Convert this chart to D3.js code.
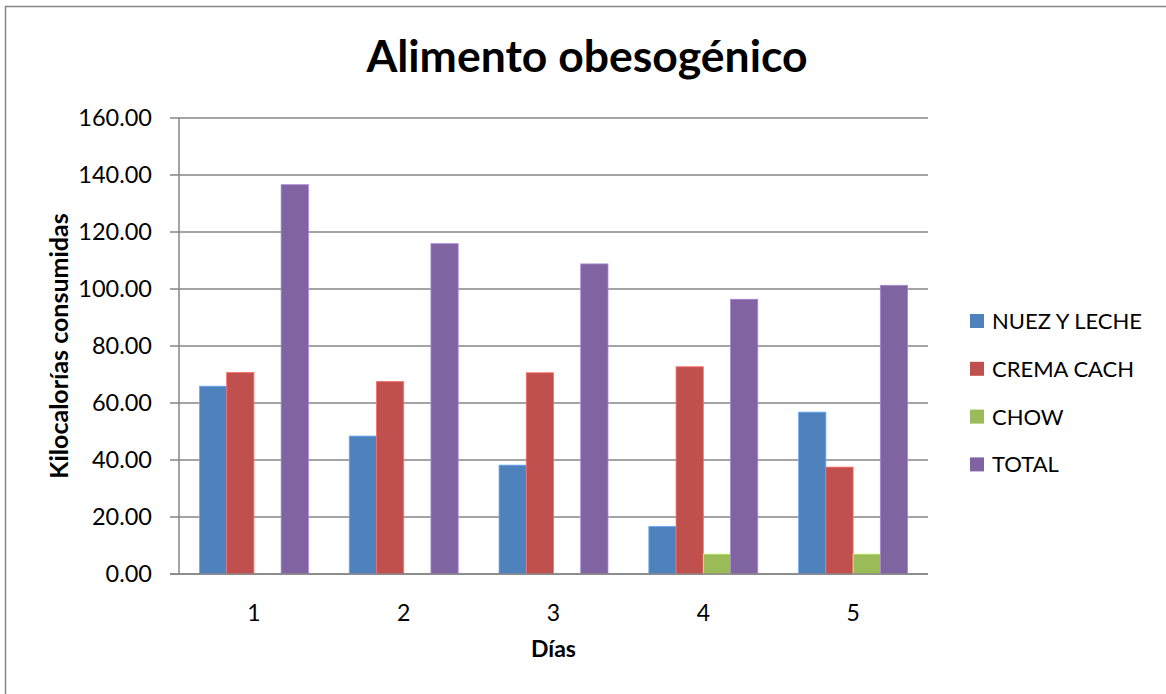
<!DOCTYPE html>
<html>
<head>
<meta charset="utf-8">
<script src="https://cdn.jsdelivr.net/npm/d3@7"></script>
<style>
  html, body { margin: 0; padding: 0; background: #fff; }
  svg { display: block; }
  text { font-family: Lato, "Open Sans", sans-serif; fill: #000; }
</style>
</head>
<body>
<svg id="chart" width="1166" height="694"></svg>
<script>
// Kilocalorías consumidas por día y por tipo de alimento
const days = ["1", "2", "3", "4", "5"];
const seriesNames = ["NUEZ Y LECHE", "CREMA CACH", "CHOW", "TOTAL"];
const nuezLeche = [65.9, 48.4, 38.2, 16.7, 56.8];
const cremaCach = [70.7, 67.5, 70.6, 72.7, 37.5];
const chow = [0, 0, 0, 7.0, 7.0];
const total = [136.6, 115.9, 108.8, 96.4, 101.3];
const yTicks = [0, 20, 40, 60, 80, 100, 120, 140, 160];
const colors = ["#4F81BD", "#C0504D", "#9BBB59", "#8064A2"];

const seriesValues = [nuezLeche, cremaCach, chow, total];

const svg = d3.select("#chart");
const W = 1166, H = 694;
const plot = { left: 179, right: 928, top: 118, bottom: 574 };

// outer chart frame
svg.append("rect")
  .attr("x", 5.5).attr("y", 6.5)
  .attr("width", W + 10).attr("height", H + 10)
  .attr("fill", "#fff").attr("stroke", "#868686").attr("stroke-width", 1.5);

const x0 = d3.scaleBand().domain(days).range([plot.left, plot.right]).paddingInner(0).paddingOuter(0);
// Excel-style gap width of 150%: group occupies 4/(4+1.5) of each category
const gapRatio = 1.5 / (seriesNames.length + 1.5);
const x1 = d3.scaleBand().domain(seriesNames)
  .range([x0.bandwidth() * gapRatio / 2, x0.bandwidth() * (1 - gapRatio / 2)]);
const y = d3.scaleLinear().domain([0, 160]).range([plot.bottom, plot.top]);

// horizontal gridlines (extending left as tick marks)
svg.append("g").selectAll("line").data(yTicks).join("line")
  .attr("x1", plot.left - 9).attr("x2", plot.right)
  .attr("y1", d => y(d)).attr("y2", d => y(d))
  .attr("stroke", "#868686").attr("stroke-width", 1.5);

// vertical axis line
svg.append("line")
  .attr("x1", plot.left).attr("x2", plot.left)
  .attr("y1", plot.top).attr("y2", plot.bottom)
  .attr("stroke", "#868686").attr("stroke-width", 1.5);

// y tick labels
svg.append("g").selectAll("text").data(yTicks).join("text")
  .attr("x", plot.left - 27).attr("y", d => y(d))
  .attr("dy", "0.36em").attr("text-anchor", "end")
  .attr("font-size", 23.5)
  .text(d => d3.format(".2f")(d));

// bars
const rows = days.map((d, i) => ({ day: d, values: seriesNames.map((s, j) => ({ s, v: seriesValues[j][i], c: colors[j] })) }));
const groups = svg.append("g").selectAll("g").data(rows).join("g")
  .attr("transform", d => `translate(${x0(d.day)},0)`);
groups.selectAll("rect").data(d => d.values.filter(e => e.v > 0)).join("rect")
  .attr("x", d => x1(d.s)).attr("width", x1.bandwidth())
  .attr("y", d => y(d.v)).attr("height", d => y(0) - y(d.v))
  .attr("fill", d => d.c)
  .attr("stroke", d => d3.color(d.c).brighter(0.8)).attr("stroke-width", 0.8);

// baseline redrawn on top of bars
svg.append("line")
  .attr("x1", plot.left - 9).attr("x2", plot.right)
  .attr("y1", y(0)).attr("y2", y(0))
  .attr("stroke", "#868686").attr("stroke-width", 1.5);

// x tick labels
svg.append("g").selectAll("text").data(days).join("text")
  .attr("x", d => x0(d) + x0.bandwidth() / 2).attr("y", 613)
  .attr("dy", "0.36em").attr("text-anchor", "middle")
  .attr("font-size", 23)
  .text(d => d);

// titles
svg.append("text")
  .attr("x", 587).attr("y", 72).attr("text-anchor", "middle")
  .attr("font-size", 44.5).attr("font-weight", "bold")
  .text("Alimento obesogénico");

svg.append("text")
  .attr("x", (plot.left + plot.right) / 2).attr("y", 649)
  .attr("dy", "0.36em").attr("text-anchor", "middle")
  .attr("font-size", 23).attr("font-weight", "bold")
  .text("Días");

svg.append("text")
  .attr("transform", `translate(59,${(plot.top + plot.bottom) / 2}) rotate(-90)`)
  .attr("dy", "0.36em").attr("text-anchor", "middle")
  .attr("font-size", 25).attr("font-weight", "bold")
  .text("Kilocalorías consumidas");

// legend
const legend = svg.append("g").selectAll("g").data(seriesNames).join("g")
  .attr("transform", (d, i) => `translate(970,${321 + i * 47.8})`);
legend.append("rect")
  .attr("x", 0).attr("y", -7).attr("width", 14).attr("height", 14)
  .attr("fill", (d, i) => colors[i]);
legend.append("text")
  .attr("x", 22).attr("y", 0).attr("dy", "0.36em")
  .attr("font-size", 22)
  .text(d => d);
</script>
</body>
</html>
